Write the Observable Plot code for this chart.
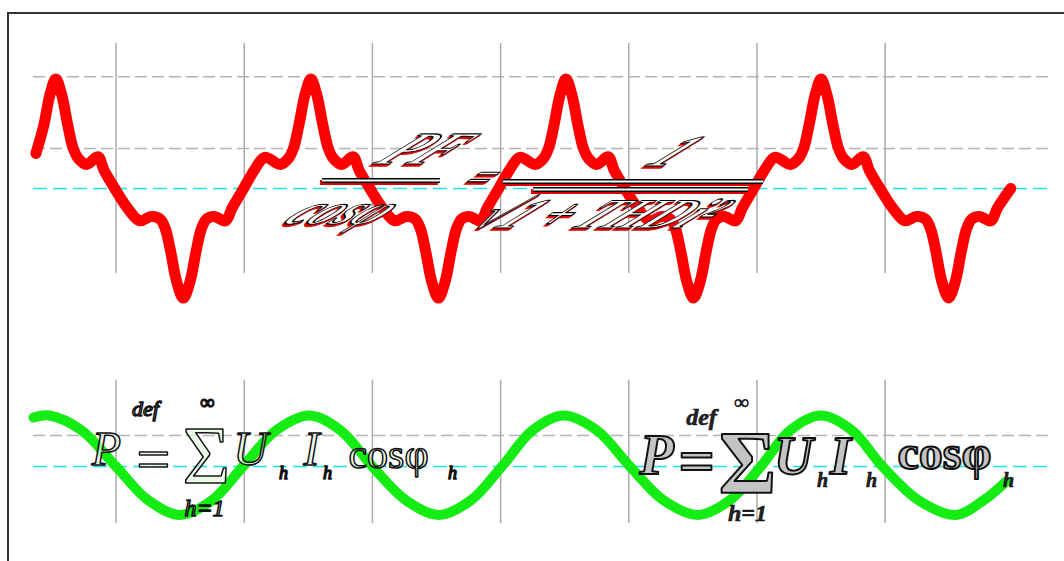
<!DOCTYPE html>
<html><head><meta charset="utf-8">
<script src="https://cdn.jsdelivr.net/npm/d3@7"></script>
<script src="https://cdn.jsdelivr.net/npm/@observablehq/plot@0.6"></script>
<style>
html,body{margin:0;padding:0;background:#fff;overflow:hidden;}
#wrap{position:relative;width:1064px;height:561px;overflow:hidden;background:#fff;}
#top,#bottom{position:absolute;left:0;}
#top{top:0;}
#bottom{top:341px;}
#frame{position:absolute;left:7px;top:12px;width:1100px;height:620px;border:2px solid #333;pointer-events:none;}
</style></head><body>
<div id="wrap"><div id="top"></div><div id="bottom"></div><div id="frame"></div></div>
<script>
// ---- data (time in ms, current in A / voltage in p.u.) ----
const gridTimes = [5, 15, 25, 35, 45, 55, 65];
const topRefLevels = [10.2, 3.65];
const bottomRefLevels = [0.61];
const zeroLevel = [0];

const redT = [-1.25, -0.65, -0.15,
  0.30, 0.75, 1.25, 1.65, 2.05, 2.70, 3.60, 4.05, 4.90, 5.90, 6.85, 7.75, 8.45, 8.85, 9.25, 9.75, 10.25, 10.75, 11.25, 11.65, 12.05, 12.65, 13.55, 14.05, 14.95, 15.85, 16.60, 17.80, 18.45, 18.85, 19.25, 19.75,
  20.20, 20.65, 21.15, 21.55, 21.95, 22.60, 23.50, 23.95, 24.80, 25.80, 26.75, 27.65, 28.35, 28.75, 29.15, 29.65, 30.15, 30.65, 31.15, 31.55, 31.95, 32.55, 33.45, 33.95, 34.85, 35.75, 36.50, 37.70, 38.35, 38.75, 39.15, 39.65,
  40.10, 40.55, 41.05, 41.45, 41.85, 42.50, 43.40, 43.85, 44.70, 45.70, 46.65, 47.55, 48.25, 48.65, 49.05, 49.55, 50.05, 50.55, 51.05, 51.45, 51.85, 52.45, 53.35, 53.85, 54.75, 55.65, 56.40, 57.60, 58.25, 58.65, 59.05, 59.55,
  60.00, 60.45, 60.95, 61.35, 61.75, 62.40, 63.30, 63.75, 64.60, 65.60, 66.55, 67.45, 68.15, 68.55, 68.95, 69.45, 69.95, 70.45, 70.95, 71.35, 71.75, 72.35, 73.25, 73.75, 74.80];
const redI = [3.2, 5.7, 8.6,
  10.0, 8.6, 5.7, 3.7, 2.75, 2.2, 2.9, 1.7, 0.0, -1.8, -2.95, -2.55, -2.8, -3.7, -5.7, -8.6, -10.0, -8.6, -5.7, -3.7, -2.8, -2.55, -2.95, -1.8, 0.0, 1.8, 2.85, 2.2, 2.75, 3.7, 5.7, 8.6,
  10.0, 8.6, 5.7, 3.7, 2.75, 2.2, 2.9, 1.7, 0.0, -1.8, -2.95, -2.55, -2.8, -3.7, -5.7, -8.6, -10.0, -8.6, -5.7, -3.7, -2.8, -2.55, -2.95, -1.8, 0.0, 1.8, 2.85, 2.2, 2.75, 3.7, 5.7, 8.6,
  10.0, 8.6, 5.7, 3.7, 2.75, 2.2, 2.9, 1.7, 0.0, -1.8, -2.95, -2.55, -2.8, -3.7, -5.7, -8.6, -10.0, -8.6, -5.7, -3.7, -2.8, -2.55, -2.95, -1.8, 0.0, 1.8, 2.85, 2.2, 2.75, 3.7, 5.7, 8.6,
  10.0, 8.6, 5.7, 3.7, 2.75, 2.2, 2.9, 1.7, 0.0, -1.8, -2.95, -2.55, -2.8, -3.7, -5.7, -8.6, -10.0, -8.6, -5.7, -3.7, -2.8, -2.55, -2.95, -1.8, 0.0];

const greenT = [-1.44, -0.2, 2.3, 5.0, 7.5, 10.0, 12.5, 14.9, 17.5, 20.1, 22.5, 25.0, 27.6, 30.2, 32.7, 35.1, 37.5, 39.9, 42.5, 45.1, 47.7, 50.4, 52.9, 55.3, 57.6, 60.0, 62.4, 64.8, 67.6, 70.5, 72.7, 74.4];
const greenV = [0.96, 1.0, 0.71, 0.0, -0.66, -0.95, -0.66, 0.0, 0.71, 1.0, 0.71, 0.0, -0.66, -0.95, -0.66, 0.0, 0.71, 1.0, 0.71, 0.0, -0.66, -0.95, -0.66, 0.0, 0.71, 1.0, 0.71, 0.0, -0.66, -0.95, -0.66, -0.3];

// formula annotations (text + anchor in data units)
const topLabels = ["PF", "cosφ", "=", "1", "√1 + THDi²"];
const topT = [27.58, 21.42, 32.3, 47.1, 41.3];
const topV = [2.28, -3.2, -0.05, 2.1, -3.65];
const barX1 = [21.1, 35.23, 37.57];
const barX2 = [30.31, 55.51, 54.34];
const barV = [0.73, 0.64, -0.09];

const f1Labels = ["P", "def", "=", "∞", "Σ", "h=1", "U", "h", "I", "h", "cosφ", "h"];
const f1T = [4.25, 7.3, 7.92, 12.1, 12.05, 11.9, 15.49, 18.06, 20.25, 21.5, 23.13, 31.25];
const f1V = [0.02, 1.0, -0.25, 1.12, -0.33, -0.97, 0.02, -0.25, 0.02, -0.25, -0.02, -0.25];

const f2Labels = ["P", "def", "=", "∞", "Σ", "h=1", "U", "h", "I", "h", "cosφ", "h"];
const f2T = [47.17, 50.67, 50.3, 53.8, 54.26, 54.26, 57.85, 60.11, 61.52, 63.94, 65.96, 74.63];
const f2V = [-0.14, 0.82, -0.33, 1.12, -0.5, -1.06, -0.14, -0.41, -0.14, -0.41, -0.04, -0.41];

// ---- tables ----
const red = redT.map((t, k) => ({t, i: redI[k]})).filter(d => d.i !== undefined);
const green = greenT.map((t, k) => ({t, v: greenV[k]}));
const bars = barX1.map((x1, k) => ({x1, x2: barX2[k], y: barV[k]}));
const topIdx = topLabels.map((_, k) => k);

// ---- styles (not data) ----
const SERIF = "Liberation Serif, Times New Roman, DejaVu Serif, serif";
const topSizes = [46, 42, 36, 44, 42];
const f1Sizes = [48, 22, 60, 20, 82, 24, 48, 18, 48, 18, 42, 18];
const f1Italic = [1, 1, 0, 0, 0, 1, 1, 1, 1, 1, 0, 1];
const f2Sizes = [56, 24, 64, 20, 88, 24, 54, 20, 54, 20, 48, 20];
const f2Italic = [1, 1, 0, 0, 0, 1, 1, 1, 1, 1, 0, 1];
const XDOM = [-1.44, 77.9];

const topPlot = Plot.plot({
  width: 1064, height: 341,
  marginLeft: 33, marginRight: 14, marginTop: 0, marginBottom: 0,
  x: {domain: XDOM, range: [33, 1050], axis: null},
  y: {domain: [-10, 10], range: [297.5, 78.5], axis: null},
  style: {background: "transparent", overflow: "visible"},
  marks: [
    Plot.ruleX(gridTimes, {y1: -7.76, y2: 13.24, stroke: "#ababab", strokeWidth: 1.5}),
    Plot.ruleY(topRefLevels, {x1: XDOM[0], x2: XDOM[1], stroke: "#b4b4b4", strokeWidth: 1.5, strokeDasharray: "12,5"}),
    Plot.ruleY(zeroLevel, {x1: XDOM[0], x2: XDOM[1], stroke: "#19e6e6", strokeWidth: 1.5, strokeDasharray: "14,6"}),
    Plot.line(red, {x: "t", y: "i", stroke: "#ff0000", strokeWidth: 11, curve: "catmull-rom", strokeLinejoin: "round"}),
    Plot.ruleY(bars, {x1: "x1", x2: "x2", y: "y", stroke: "#d00", strokeWidth: 5, dx: -2, dy: 2}),
    Plot.ruleY(bars, {x1: "x1", x2: "x2", y: "y", stroke: "#000", strokeWidth: 5}),
    Plot.ruleY(bars, {x1: "x1", x2: "x2", y: "y", stroke: "#fff", strokeWidth: 2.2}),
    Plot.text(topIdx, {x: k => topT[k], y: k => topV[k], text: k => topLabels[k], fontSize: k => topSizes[k],
      fontFamily: SERIF, fontWeight: "bold", fontStyle: "italic", lineAnchor: "bottom",
      fill: "#e00000", stroke: "#e00000", strokeWidth: 1.5, dx: -2, dy: 2}),
    Plot.text(topIdx, {x: k => topT[k], y: k => topV[k], text: k => topLabels[k], fontSize: k => topSizes[k],
      fontFamily: SERIF, fontWeight: "bold", fontStyle: "italic", lineAnchor: "bottom",
      fill: "#ffffff", stroke: "#000000", strokeWidth: 1.1, paintOrder: "normal"})
  ]
});

function formulaMarks(labels, T, V, sizes, italic, bold) {
  return labels.map((_, k) => Plot.text([k], {
    x: i => T[i], y: i => V[i], text: i => labels[i],
    fontSize: sizes[k], fontFamily: SERIF,
    fontStyle: italic[k] ? "italic" : "normal",
    fontWeight: bold ? "bold" : "normal",
    textAnchor: labels[k] === "cosφ" ? "start" : "middle",
    lineAnchor: "bottom",
    fill: bold ? (sizes[k] < 30 ? "#222" : "#c4c4c4") : "#e4f7df",
    fillOpacity: bold ? 1 : 0.7,
    stroke: bold ? "#111" : "#111",
    strokeWidth: bold ? (sizes[k] < 30 ? 0.6 : 2) : 1.5,
    paintOrder: "normal"
  }));
}

const bottomPlot = Plot.plot({
  width: 1064, height: 220,
  marginLeft: 33, marginRight: 14, marginTop: 0, marginBottom: 0,
  x: {domain: XDOM, range: [33, 1050], axis: null},
  y: {domain: [-1, 1], range: [176, 74], axis: null},
  style: {background: "transparent", overflow: "visible"},
  marks: [
    Plot.ruleX(gridTimes, {y1: -1.12, y2: 1.69, stroke: "#ababab", strokeWidth: 1.5}),
    Plot.ruleY(bottomRefLevels, {x1: XDOM[0], x2: XDOM[1], stroke: "#b4b4b4", strokeWidth: 1.5, strokeDasharray: "12,5"}),
    Plot.ruleY(zeroLevel, {x1: XDOM[0], x2: XDOM[1], stroke: "#19e6e6", strokeWidth: 1.5, strokeDasharray: "14,6"}),
    Plot.line(green, {x: "t", y: "v", stroke: "#14ec14", strokeWidth: 10, curve: "catmull-rom"}),
    ...formulaMarks(f1Labels, f1T, f1V, f1Sizes, f1Italic, false),
    ...formulaMarks(f2Labels, f2T, f2V, f2Sizes, f2Italic, true)
  ]
});

document.getElementById("top").appendChild(topPlot);
document.getElementById("bottom").appendChild(bottomPlot);

// slant the top formula strongly, like the original word-art
topPlot.querySelectorAll("text").forEach(el => {
  if (!topLabels.includes(el.textContent)) return;
  const extra = " skewX(-55) scale(1.15,1)";
  const tr = el.getAttribute("transform");
  if (tr) {
    el.setAttribute("transform", tr + extra);
  } else {
    const x = parseFloat(el.getAttribute("x")) || 0, y = parseFloat(el.getAttribute("y")) || 0;
    el.removeAttribute("x"); el.removeAttribute("y");
    el.setAttribute("transform", `translate(${x},${y})` + extra);
  }
});
</script>
</body></html>
